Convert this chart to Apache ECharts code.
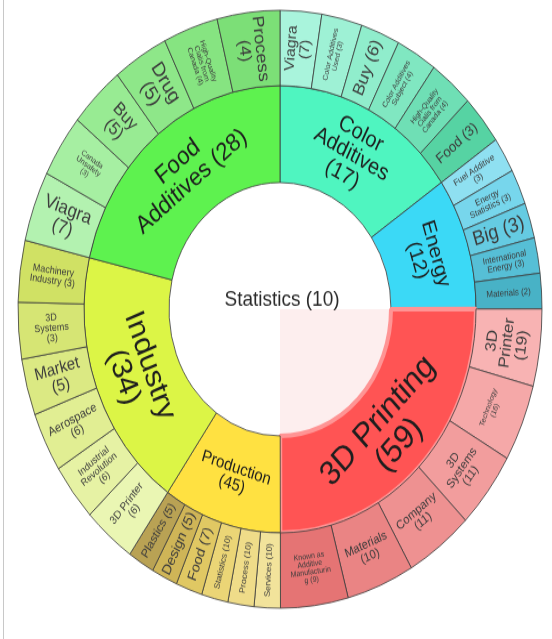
<!DOCTYPE html>
<html>
<head>
<meta charset="utf-8">
<script src="https://cdn.jsdelivr.net/npm/echarts@6/dist/echarts.min.js"></script>
<style>
  html, body { margin: 0; padding: 0; background: #fff; overflow: hidden; }
  #frame { position: absolute; left: 3px; top: 0; width: 548px; height: 639px; border-left: 1px solid #c8c8c8; }
  /* the reference is stretched vertically, so the chart is drawn round and scaled */
  #chart { position: absolute; left: 0; top: 0; width: 552px; height: 560px; transform: scaleY(1.141); transform-origin: 0 0; }
</style>
</head>
<body>
<div id="frame"></div>
<div id="chart"></div>
<script>
// centre
const rootName = 'Statistics (10)'

// inner ring, clockwise from 12 o'clock
const groupNames = ['Color\nAdditives\n(17)', 'Energy\n(12)', '3D Printing\n(59)', 'Production\n(45)', 'Industry\n(34)', 'Food\nAdditives (28)']

// outer ring: names and angular spans (degrees), clockwise
const colorAddNames = ['Viagra\n(7)', 'Color Additives\nUsed (3)', 'Buy (6)', 'Color Additives\nSubject (4)', 'High-Quality\nCialis from\nCanada (4)', 'Food (3)']
const colorAddSpans = [9.2, 9.0, 8.7, 9.1, 9.8, 9.7]

const energyNames = ['Fuel Additive\n(3)', 'Energy\nStatistics (3)', 'Big (3)', 'International\nEnergy (3)', 'Materials (2)']
const energySpans = [6.9, 6.9, 6.9, 6.9, 6.9]

const printingNames = ['3D\nPrinter\n(19)', 'Technology\n(16)', '3D\nSystems\n(11)', 'Company\n(11)', 'Materials\n(10)', 'Known as\nAdditive\nManufacturin\ng (9)']
const printingSpans = [15, 15, 15, 15, 15, 15]

const productionNames = ['Services (10)', 'Process (10)', 'Statistics (10)', 'Food (7)', 'Design (5)', 'Plastics (5)']
const productionSpans = [5.8, 5.8, 5.9, 5.9, 5.8, 5.9]

const industryNames = ['3D Printer\n(6)', 'Industrial\nRevolution\n(6)', 'Aerospace\n(6)', 'Market\n(5)', '3D\nSystems\n(3)', 'Machinery\nIndustry (3)']
const industrySpans = [11.6, 11.2, 11.6, 11.0, 11.0, 12.0]

const foodAddNames = ['Viagra\n(7)', 'Canada\nUnsafety\n(3)', 'Buy\n(5)', 'Drug\n(5)', 'High-Quality\nCialis from\nCanada (4)', 'Process\n(4)']
const foodAddSpans = [13.7, 12.3, 12.3, 12.3, 12.2, 13.9]

// styles
const groupColors = ['#4ff5c0', '#3bd9f6', '#ff5454', '#ffe141', '#dcf546', '#5ef24f']
const groupFontSizes = [20, 19, 30, 15, 28, 22]

const colorAddFills = ['#a9f4dc', '#9ef1d5', '#90edcc', '#80e7c1', '#6fdfb5', '#56d3a3']
const energyFills = ['#8fe0f1', '#77d6ec', '#65cbe2', '#56bfd6', '#48b2c6']
const printingFills = ['#f8b3b3', '#f5a8a8', '#f29d9d', '#ee9191', '#ea8484', '#e57474']
const productionFills = ['#f2e39b', '#efdc89', '#ebd576', '#e0c863', '#cfb557', '#b9a254']
const industryFills = ['#eaf6b3', '#e6f2a4', '#e1ee93', '#dbe983', '#d6e574', '#d0e164']
const foodAddFills = ['#b3f2b0', '#a6efa2', '#98eb93', '#8ee789', '#86e481', '#7cdf77']

const colorAddFont = [14, 7, 16, 7, 7, 13]
const energyFont = [8, 8, 18, 8, 8]
const printingFont = [15, 7, 11, 11, 11, 7]
const productionFont = [8, 8, 8, 13, 13, 11]
const industryFont = [10, 9, 11, 15, 9, 9]
const foodAddFont = [17, 7, 16, 18, 7, 16]

const outer = [
  [colorAddNames, colorAddSpans, colorAddFills, colorAddFont],
  [energyNames, energySpans, energyFills, energyFont],
  [printingNames, printingSpans, printingFills, printingFont],
  [productionNames, productionSpans, productionFills, productionFont],
  [industryNames, industrySpans, industryFills, industryFont],
  [foodAddNames, foodAddSpans, foodAddFills, foodAddFont]
]

const highlighted = 2 // 3D Printing

const data = groupNames.map((name, g) => {
  const [names, spans, fills, fonts] = outer[g]
  const node = {
    name,
    itemStyle: { color: groupColors[g] },
    label: { fontSize: groupFontSizes[g] },
    children: names.map((n, i) => ({
      name: n,
      value: spans[i],
      itemStyle: { color: fills[i] },
      label: { fontSize: fonts[i], rotate: g === highlighted ? 'tangential' : 'radial' }
    }))
  }
  if (g === highlighted) node.itemStyle = { color: groupColors[g], borderColor: '#ff9494', borderWidth: 4 }
  return node
})

const highlightSpan = printingSpans.reduce((a, b) => a + b, 0)

const chart = echarts.init(document.getElementById('chart'), null, { renderer: 'canvas' })
chart.setOption({
  animation: false,
  title: {
    text: rootName,
    left: 277,
    top: 248,
    textAlign: 'center',
    textStyle: { fontFamily: 'Liberation Sans', fontSize: 19, fontWeight: 'normal', color: '#2a2a2a' }
  },
  series: [
    {
      // light tint in the hole behind the highlighted group
      type: 'pie',
      silent: true,
      z: 1,
      center: [280, 271],
      radius: [0, 111],
      startAngle: 0,
      clockwise: true,
      label: { show: false },
      labelLine: { show: false },
      data: [
        { name: 'tint', value: highlightSpan, itemStyle: { color: '#fdeeee' } },
        { name: 'rest', value: 360 - highlightSpan, itemStyle: { color: 'rgba(0,0,0,0)' } }
      ]
    },
    {
      type: 'sunburst',
      z: 2,
      center: [280, 271],
      startAngle: 90,
      clockwise: true,
      sort: null,
      nodeClick: false,
      emphasis: { focus: 'none' },
      itemStyle: { borderColor: '#3a3a3a', borderWidth: 0.8 },
      label: { fontFamily: 'Liberation Sans', color: '#2c2c2c' },
      levels: [
        {},
        { r0: 111, r: 196, label: { rotate: 'tangential', color: '#1e1e1e' } },
        { r0: 196, r: 262, label: { rotate: 'radial', color: '#3c3c3c' } }
      ],
      data
    }
  ]
})
</script>
</body>
</html>
